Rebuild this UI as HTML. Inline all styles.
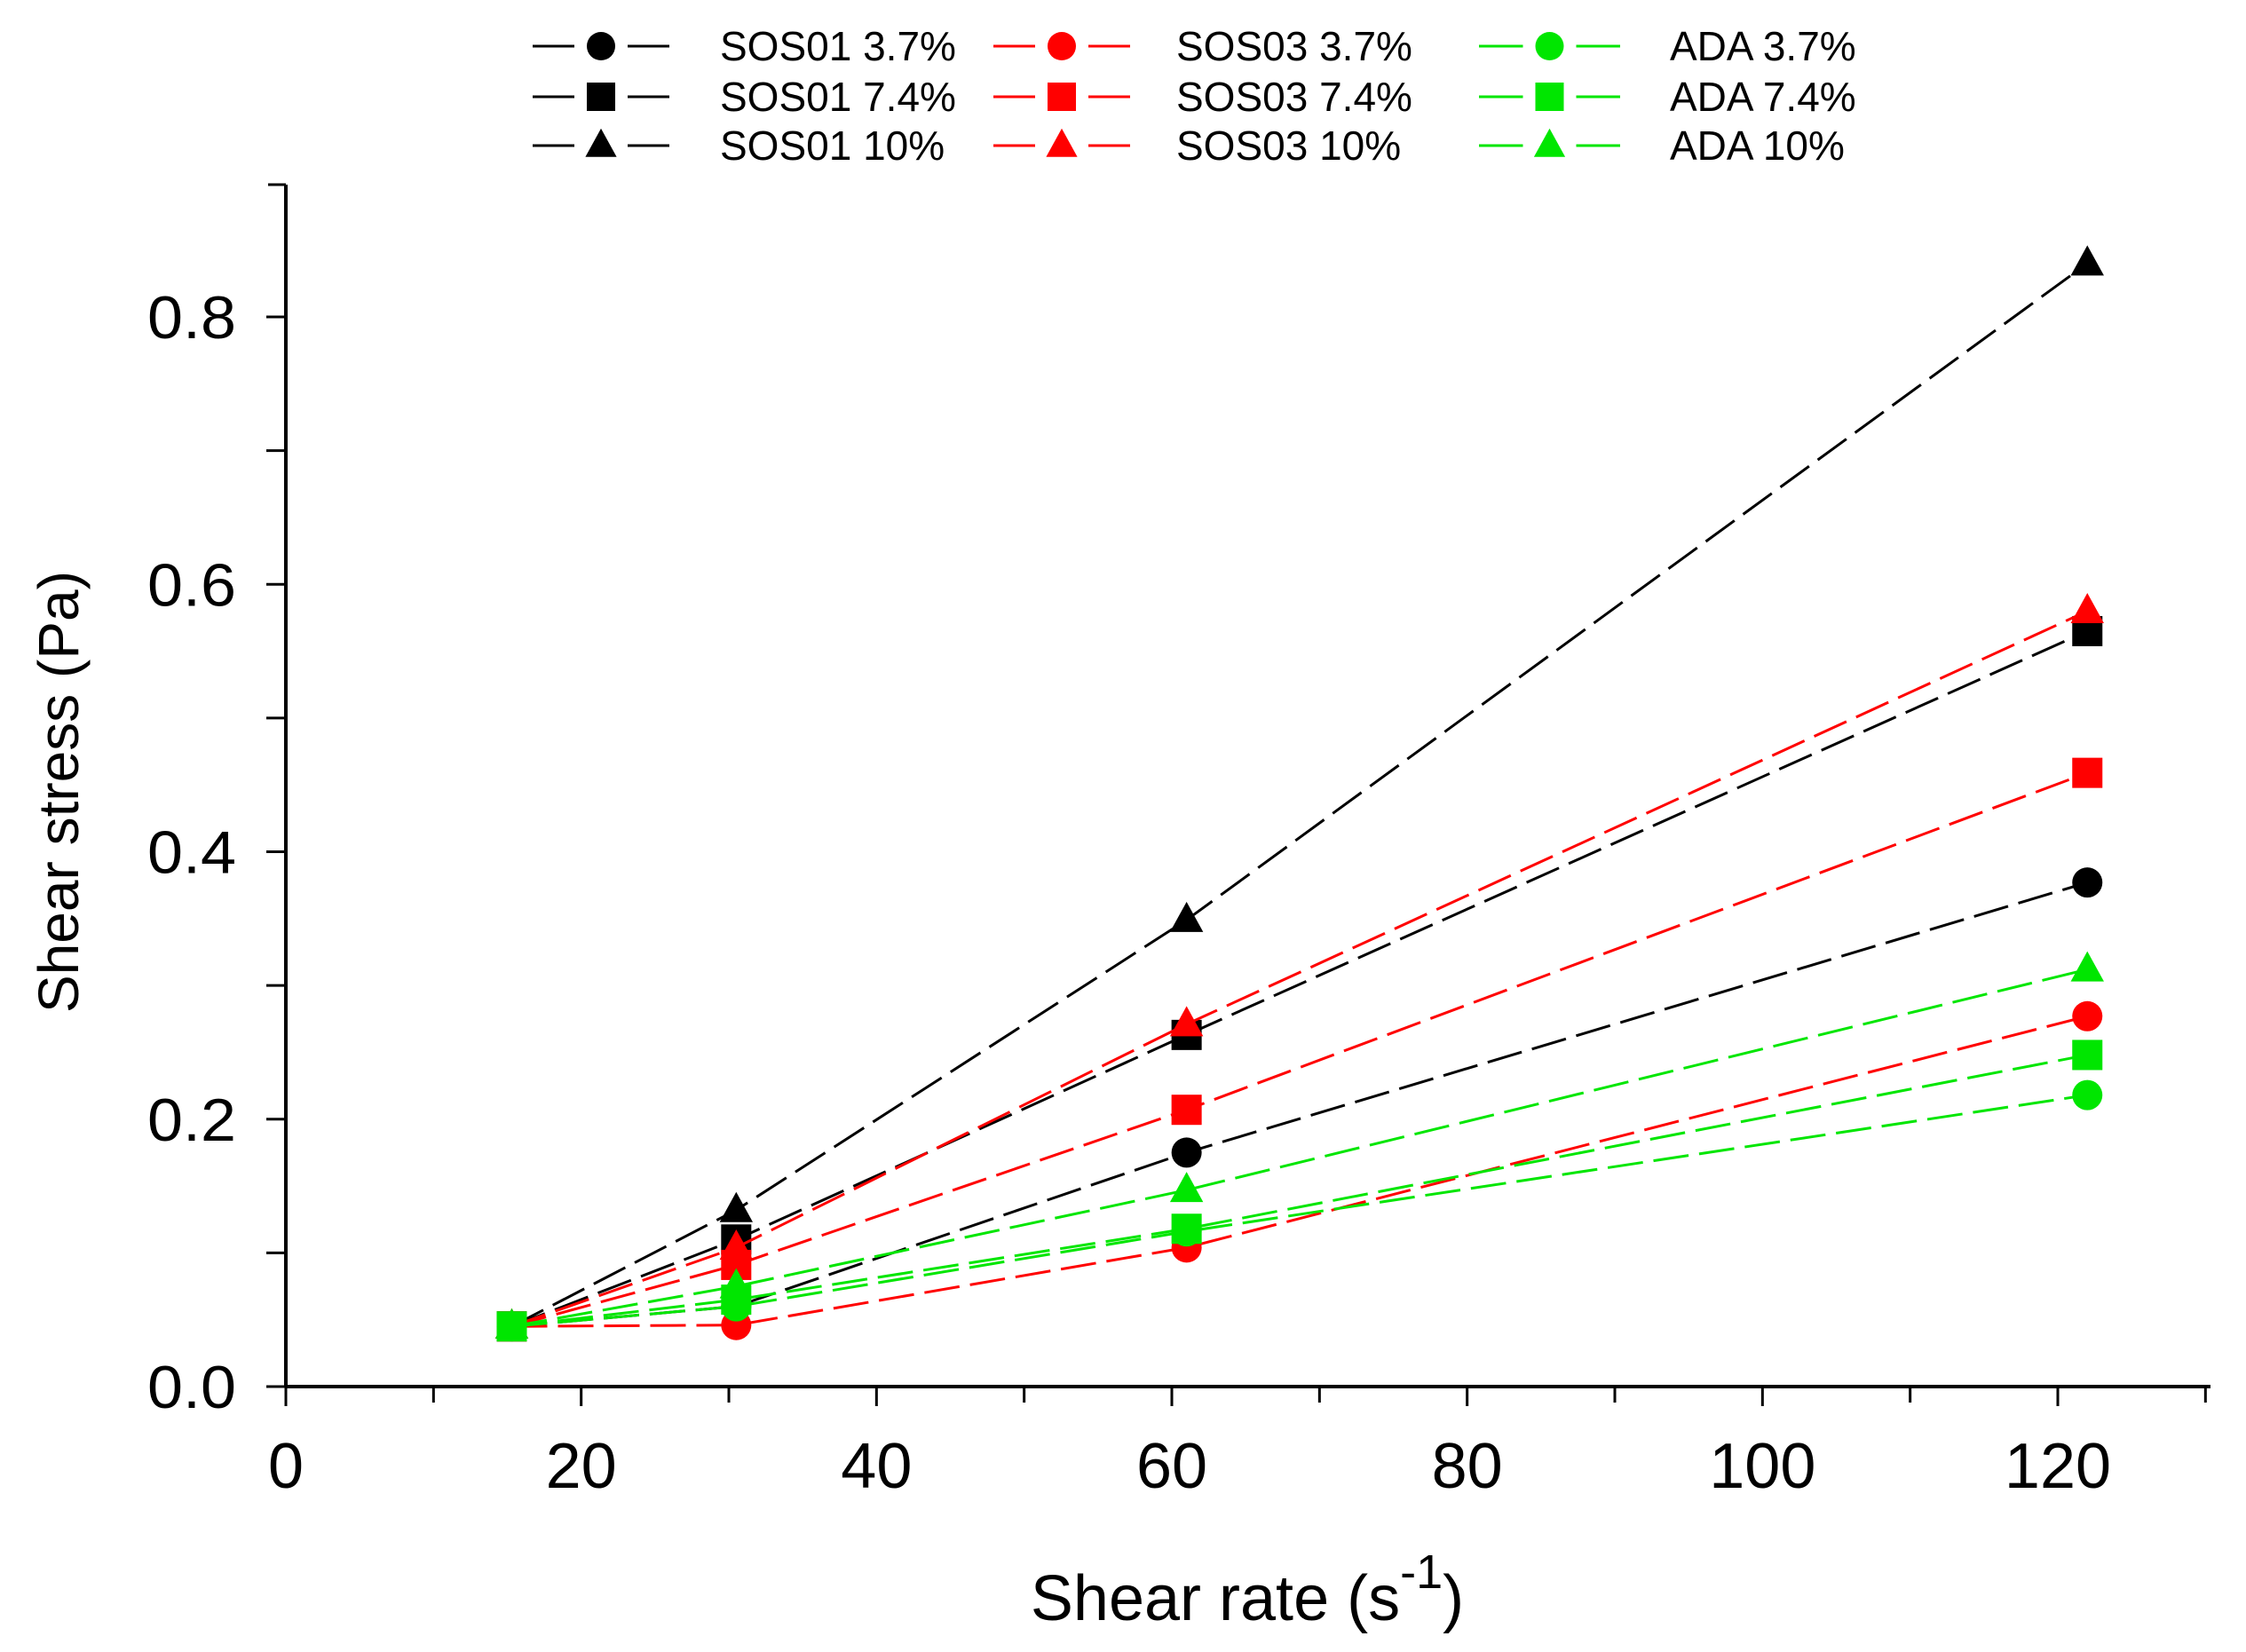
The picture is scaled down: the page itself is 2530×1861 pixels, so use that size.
<!DOCTYPE html>
<html><head><meta charset="utf-8"><style>
html,body{margin:0;padding:0;background:#fff;}
svg{display:block;font-family:"Liberation Sans",Arial,sans-serif;}
</style></head><body>
<svg id="chart" width="2530" height="1861" viewBox="0 0 2530 1861" xmlns="http://www.w3.org/2000/svg">
<g id="axes"></g>
<g id="series"></g>
<g id="legend"></g>
<text x="1405" y="1825" font-size="72" text-anchor="middle">Shear rate (s<tspan dy="-36" font-size="54">-1</tspan><tspan dy="36">)</tspan></text>
<text transform="translate(88,892) rotate(-90)" font-size="64" text-anchor="middle">Shear stress (Pa)</text>
</svg>
<script>
const xValues = [15.3, 30.5, 61, 122];
const seriesNames = ["SOS01 3.7%","SOS01 7.4%","SOS01 10%","SOS03 3.7%","SOS03 7.4%","SOS03 10%","ADA 3.7%","ADA 7.4%","ADA 10%"];
const seriesColors = ["#000","#000","#000","#ff0000","#ff0000","#ff0000","#00e600","#00e600","#00e600"];
const seriesMarkers = ["circle","square","triangle","circle","square","triangle","circle","square","triangle"];
const sos01_37 = [0.045, 0.060, 0.175, 0.377];
const sos01_74 = [0.045, 0.110, 0.263, 0.565];
const sos01_10 = [0.045, 0.132, 0.349, 0.840];
const sos03_37 = [0.045, 0.046, 0.104, 0.277];
const sos03_74 = [0.045, 0.091, 0.207, 0.459];
const sos03_10 = [0.045, 0.104, 0.271, 0.580];
const ada_37 = [0.045, 0.060, 0.116, 0.218];
const ada_74 = [0.045, 0.065, 0.118, 0.248];
const ada_10 = [0.045, 0.075, 0.147, 0.312];
const seriesValues = [sos01_37, sos01_74, sos01_10, sos03_37, sos03_74, sos03_10, ada_37, ada_74, ada_10];
const xTicks = [0,20,40,60,80,100,120];
const yTicks = [0.0,0.2,0.4,0.6,0.8];
const yTickLabels = ["0.0","0.2","0.4","0.6","0.8"];

const NS="http://www.w3.org/2000/svg";
const X0=322, X120=2318, XEND=2490, Y0=1562, Y08=357, YTOP=208;
function sx(v){return X0+(X120-X0)*v/120;}
function sy(v){return Y0-(Y0-Y08)*v/0.8;}
function mk(tag,attrs,parent){const e=document.createElementNS(NS,tag);for(const k in attrs)e.setAttribute(k,attrs[k]);parent.appendChild(e);return e;}
const axes=document.getElementById('axes');
let e;
e=mk('line',{x1:X0,y1:Y0,x2:XEND,y2:Y0,stroke:'#000','stroke-width':4},axes);


e=mk('line',{x1:X0,y1:Y0,x2:X0,y2:YTOP,stroke:'#000','stroke-width':4},axes);


mk('line',{x1:X0-20,y1:YTOP,x2:X0,y2:YTOP,stroke:'#000','stroke-width':3},axes);
for(let v=0;v<=130;v+=10){
  const major=v%20===0;
  e=mk('line',{x1:sx(v),y1:Y0,x2:sx(v),y2:Y0+(major?22:18),stroke:'#000','stroke-width':3},axes);
  
  
}
xTicks.forEach(v=>{
  e=mk('text',{x:sx(v),y:1676,'font-size':72,'text-anchor':'middle'},axes);
  e.textContent=String(v);
  
  
});
for(let i=0;i<=8;i++){
  const v=i*0.1;
  e=mk('line',{x1:X0-22,y1:sy(v),x2:X0,y2:sy(v),stroke:'#000','stroke-width':3},axes);
  
  
}
yTicks.forEach((v,i)=>{
  e=mk('text',{x:266,y:sy(v)+24,'font-size':68,'text-anchor':'end',textLength:100,lengthAdjust:'spacingAndGlyphs'},axes);
  e.textContent=yTickLabels[i];
  
  
});
function marker(type,cx,cy,color,parent,r){
  r=r||17;
  let m;
  if(type==='circle') m=mk('circle',{cx:cx,cy:cy,r:r,fill:color},parent);
  else if(type==='square') m=mk('rect',{x:cx-r,y:cy-r,width:2*r,height:2*r,fill:color},parent);
  else m=mk('polygon',{points:`${cx},${cy-r*1.2} ${cx-r*1.1},${cy+r*0.8} ${cx+r*1.1},${cy+r*0.8}`,fill:color},parent);
  return m;
}
const sg=document.getElementById('series');
seriesValues.forEach((vals,si)=>{
  const g=mk('g',{},sg);
  
  
  const pts=vals.map((v,i)=>sx(xValues[i])+','+sy(v)).join(' ');
  e=mk('polyline',{points:pts,fill:'none',stroke:seriesColors[si],'stroke-width':3,'stroke-dasharray':'40 12'},g);
  
  
  vals.forEach((v,i)=>{
    const m=marker(seriesMarkers[si],sx(xValues[i]),sy(v),seriesColors[si],g);
    
    
  });
});
const lg=document.getElementById('legend');
const colLine=[[600,754],[1119,1273],[1666,1825]];
const colText=[811,1325,1881];
const rowY=[52,109,164];
seriesNames.forEach((n,i)=>{
  const c=Math.floor(i/3), r=i%3;
  const g=mk('g',{},lg);
  
  
  const [a,b]=colLine[c], m=(a+b)/2, y=rowY[r];
  mk('line',{x1:a,y1:y,x2:m-30,y2:y,stroke:seriesColors[i],'stroke-width':3},g);
  mk('line',{x1:m+30,y1:y,x2:b,y2:y,stroke:seriesColors[i],'stroke-width':3},g);
  marker(seriesMarkers[i],m,y,seriesColors[i],g,16);
  const t=mk('text',{x:colText[c],y:y+16,'font-size':46},g);
  t.textContent=n;
});
</script>
</body></html>
